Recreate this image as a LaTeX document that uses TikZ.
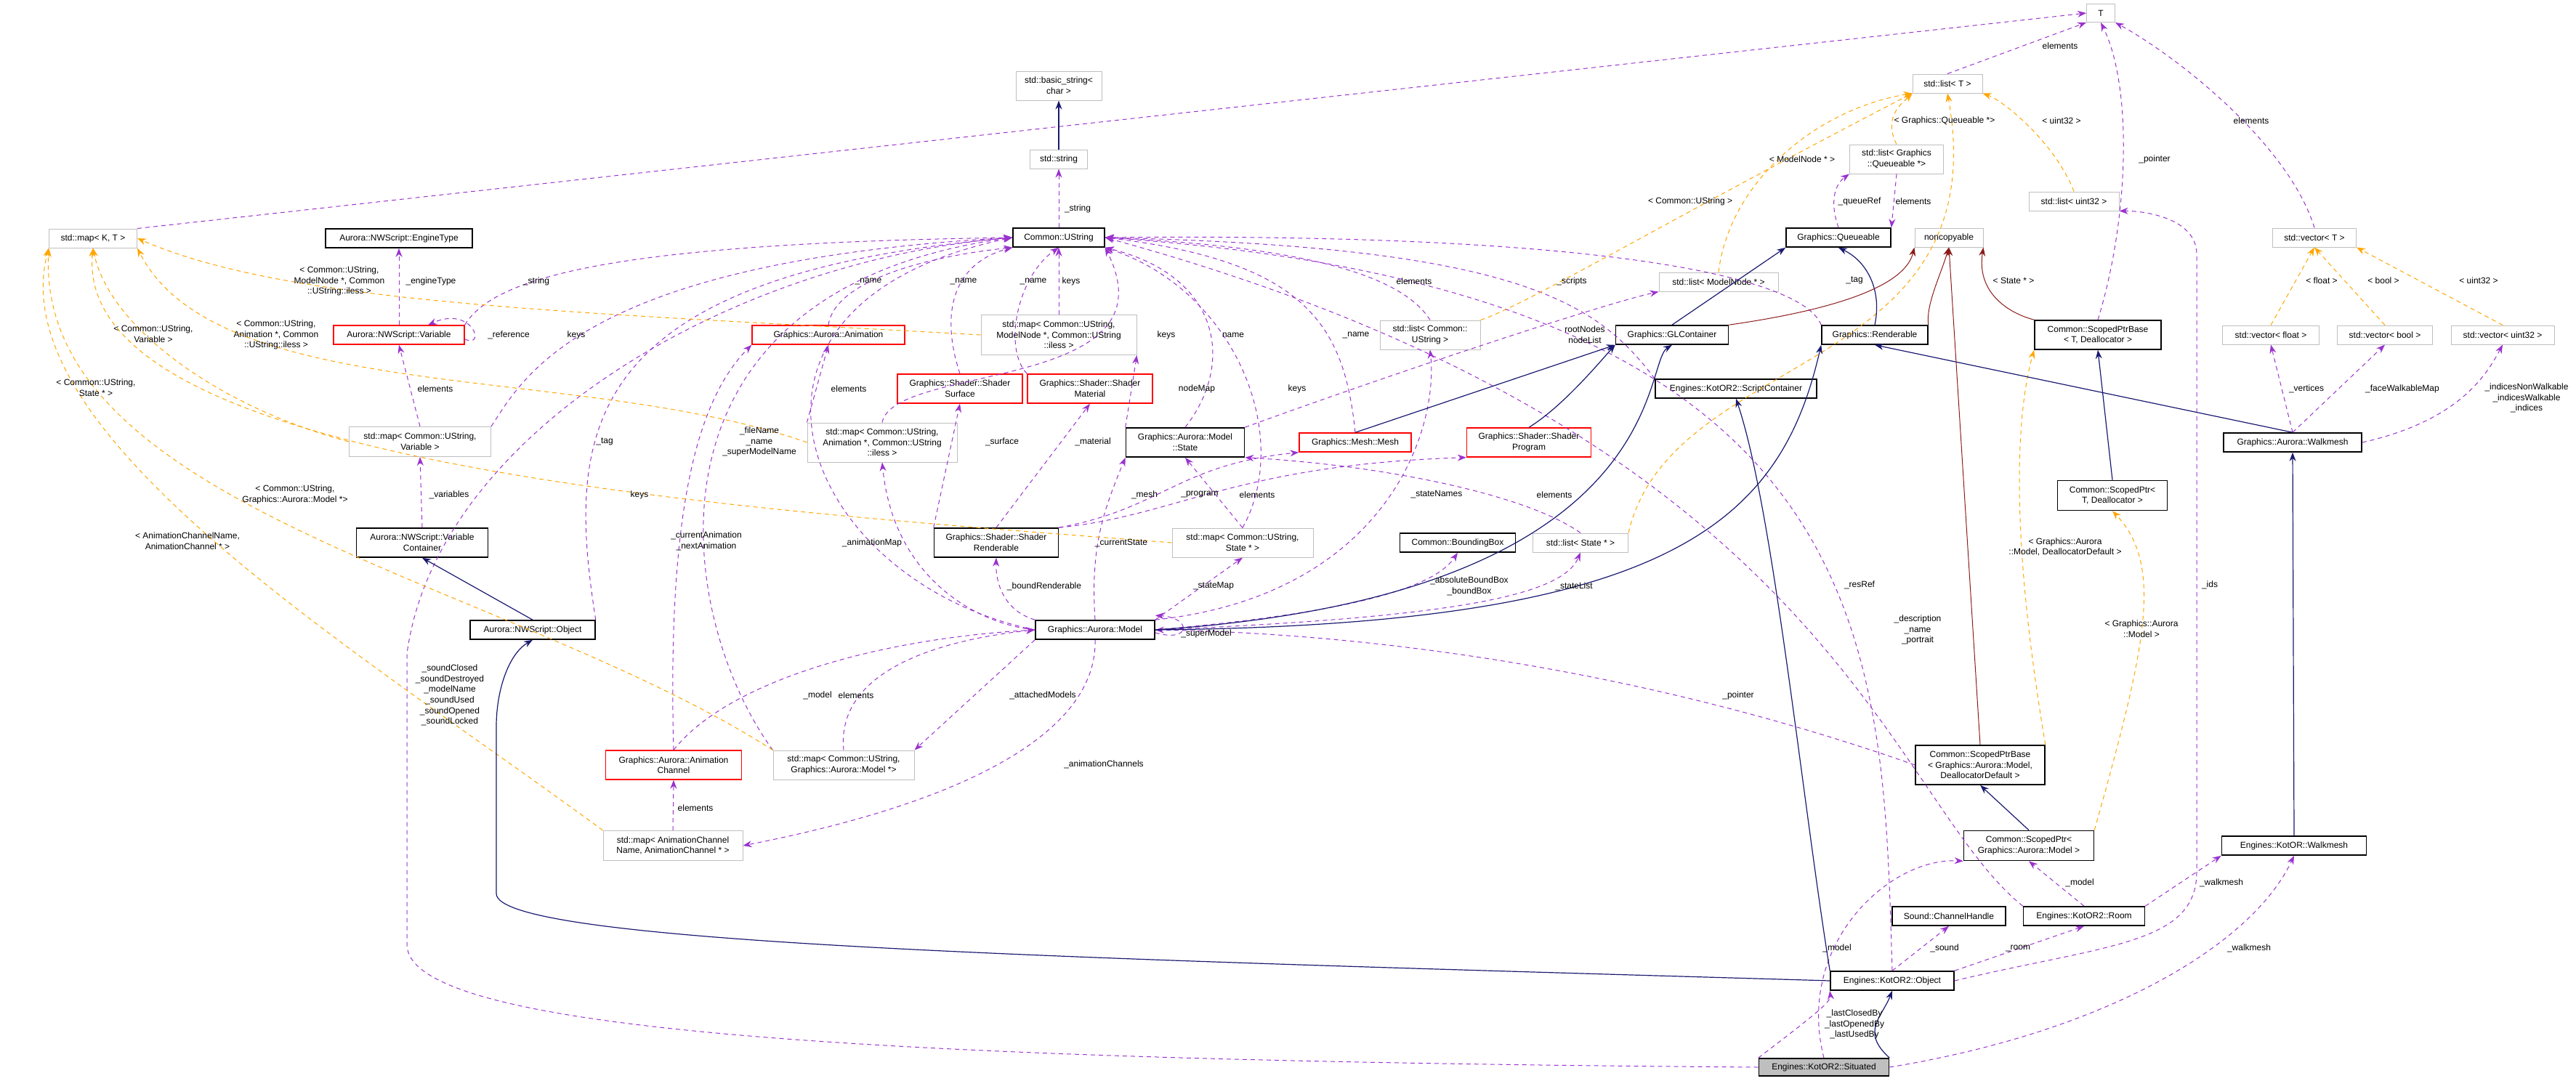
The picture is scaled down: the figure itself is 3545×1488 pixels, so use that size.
\documentclass[tikz,border=0pt]{standalone}
\usepackage{fontspec}
\setmainfont{Liberation Sans}
\usetikzlibrary{arrows.meta}
\definecolor{useclr}{RGB}{154,50,205}
\definecolor{tmplclr}{RGB}{255,165,0}
\definecolor{inhclr}{RGB}{25,25,112}
\definecolor{privclr}{RGB}{139,26,26}
\definecolor{grayb}{RGB}{191,191,191}
\tikzset{
 every node/.style={font=\fontsize{6pt}{7.3pt}\selectfont, align=center},
 box/.style={draw, rectangle, inner sep=1pt, line width=0.5pt},
 gbox/.style={box, draw=grayb},
 kbox/.style={box, draw=black, line width=0.8pt},
 rbox/.style={box, draw=red, line width=0.7pt},
 lbl/.style={inner sep=0pt},
 tip/.style={-{Stealth[length=6pt,width=4.5pt]}},
 use/.style={tip, draw=useclr, dash pattern=on 3pt off 2.5pt, line width=0.5pt},
 tmpl/.style={tip, draw=tmplclr, dash pattern=on 3pt off 2.5pt, line width=0.5pt},
 inh/.style={tip, draw=inhclr, line width=0.6pt},
 priv/.style={tip, draw=privclr, line width=0.5pt},
}
\begin{document}
\begin{tikzpicture}[x=0.5pt,y=-0.5pt]
\useasboundingbox (0,0) rectangle (3545,1488);
% nodes
\node[gbox,minimum width=19.5pt,minimum height=12.5pt] (T) at (2891,18) {T};
\node[gbox,minimum width=59pt,minimum height=20pt] (basic) at (1457,118) {std::basic\_string\textless\\ char \textgreater};
\node[gbox,minimum width=39.5pt,minimum height=13pt] (stdstring) at (1457,219) {std::string};
\node[kbox,minimum width=63pt,minimum height=13pt] (ustring) at (1457,327) {Common::UString};
\node[gbox,minimum width=60.5pt,minimum height=13pt] (mapKT) at (128,328) {std::map\textless{} K, T \textgreater};
\node[kbox,minimum width=101pt,minimum height=13pt] (engine) at (549,328) {Aurora::NWScript::EngineType};
\node[rbox,minimum width=90pt,minimum height=13pt] (variable) at (549,461) {Aurora::NWScript::Variable};
\node[gbox,minimum width=97.5pt,minimum height=20.5pt] (mapUVar) at (578,608) {std::map\textless{} Common::UString,\\ Variable \textgreater};
\node[kbox,minimum width=90.5pt,minimum height=20pt] (varcont) at (581,747) {Aurora::NWScript::Variable\\Container};
\node[kbox,minimum width=86pt,minimum height=13pt] (nwobj) at (733,867) {Aurora::NWScript::Object};
\node[rbox,minimum width=105pt,minimum height=13pt] (anim) at (1140,461) {Graphics::Aurora::Animation};
\node[gbox,minimum width=103pt,minimum height=27pt] (mapAnim) at (1214,609) {std::map\textless{} Common::UString,\\ Animation *, Common::UString\\ ::iless \textgreater};
\node[gbox,minimum width=107pt,minimum height=27.5pt] (mapMN) at (1457,461) {std::map\textless{} Common::UString,\\ ModelNode *, Common::UString\\ ::iless \textgreater};
\node[rbox,minimum width=86pt,minimum height=20pt] (surface) at (1321,535) {Graphics::Shader::Shader\\Surface};
\node[rbox,minimum width=86pt,minimum height=20pt] (material) at (1500,535) {Graphics::Shader::Shader\\Material};
\node[kbox,minimum width=81.5pt,minimum height=20pt] (mstate) at (1631,609) {Graphics::Aurora::Model\\::State};
\node[rbox,minimum width=77pt,minimum height=13pt] (mesh) at (1865,609) {Graphics::Mesh::Mesh};
\node[rbox,minimum width=85.5pt,minimum height=20pt] (program) at (2104,609) {Graphics::Shader::Shader\\Program};
\node[gbox,minimum width=69pt,minimum height=20pt] (listUS) at (1968,461) {std::list\textless{} Common::\\UString \textgreater};
\node[gbox,minimum width=82pt,minimum height=13pt] (listMN) at (2365,388) {std::list\textless{} ModelNode * \textgreater};
\node[kbox,minimum width=77.5pt,minimum height=13pt] (glcont) at (2301,461) {Graphics::GLContainer};
\node[kbox,minimum width=111pt,minimum height=13pt] (script) at (2389,535) {Engines::KotOR2::ScriptContainer};
\node[kbox,minimum width=85.5pt,minimum height=20pt] (rends) at (1371,747) {Graphics::Shader::Shader\\Renderable};
\node[gbox,minimum width=97pt,minimum height=20pt] (mapUState) at (1710,747) {std::map\textless{} Common::UString,\\ State * \textgreater};
\node[kbox,minimum width=79.5pt,minimum height=13pt] (bbox) at (2006,747) {Common::BoundingBox};
\node[gbox,minimum width=65.5pt,minimum height=13pt] (listState) at (2175,747) {std::list\textless{} State * \textgreater};
\node[kbox,minimum width=82pt,minimum height=13pt] (model) at (1507,867) {Graphics::Aurora::Model};
\node[gbox,minimum width=48pt,minimum height=13pt] (listT) at (2680,115) {std::list\textless{} T \textgreater};
\node[gbox,minimum width=64.5pt,minimum height=20pt] (listQ) at (2610,219) {std::list\textless{} Graphics\\::Queueable *\textgreater};
\node[gbox,minimum width=62pt,minimum height=13pt] (listU32) at (2854,277) {std::list\textless{} uint32 \textgreater};
\node[kbox,minimum width=72pt,minimum height=13pt] (queue) at (2530,327) {Graphics::Queueable};
\node[gbox,minimum width=47pt,minimum height=13pt] (noncopy) at (2682,327) {noncopyable};
\node[gbox,minimum width=57.5pt,minimum height=13pt] (vecT) at (3185,327) {std::vector\textless{} T \textgreater};
\node[kbox,minimum width=73pt,minimum height=13pt] (renderable) at (2580,461) {Graphics::Renderable};
\node[kbox,minimum width=87pt,minimum height=20pt] (spbT) at (2887,461) {Common::ScopedPtrBase\\\textless{} T, Deallocator \textgreater};
\node[gbox,minimum width=66.5pt,minimum height=13pt] (vecF) at (3125,461) {std::vector\textless{} float \textgreater};
\node[gbox,minimum width=65.5pt,minimum height=13pt] (vecB) at (3282,461) {std::vector\textless{} bool \textgreater};
\node[gbox,minimum width=71pt,minimum height=13pt] (vecU) at (3444,461) {std::vector\textless{} uint32 \textgreater};
\node[kbox,minimum width=95pt,minimum height=13pt] (walkmesh) at (3155,609) {Graphics::Aurora::Walkmesh};
\node[kbox,minimum width=75.5pt,minimum height=20.5pt] (spT) at (2907,682) {Common::ScopedPtr\textless\\ T, Deallocator \textgreater};
\node[rbox,minimum width=93.5pt,minimum height=20pt] (animch) at (927,1053) {Graphics::Aurora::Animation\\Channel};
\node[gbox,minimum width=97pt,minimum height=20pt] (mapUM) at (1161,1053) {std::map\textless{} Common::UString,\\ Graphics::Aurora::Model *\textgreater};
\node[gbox,minimum width=96pt,minimum height=20.5pt] (mapAC) at (926,1164) {std::map\textless{} AnimationChannel\\Name, AnimationChannel * \textgreater};
\node[kbox,minimum width=89pt,minimum height=27pt] (spbM) at (2725,1053) {Common::ScopedPtrBase\\\textless{} Graphics::Aurora::Model,\\ DeallocatorDefault \textgreater};
\node[kbox,minimum width=89.5pt,minimum height=20.5pt] (spM) at (2792,1164) {Common::ScopedPtr\textless\\ Graphics::Aurora::Model \textgreater};
\node[kbox,minimum width=99.5pt,minimum height=13pt] (kwalk) at (3157,1164) {Engines::KotOR::Walkmesh};
\node[kbox,minimum width=78pt,minimum height=13pt] (chan) at (2682,1261) {Sound::ChannelHandle};
\node[kbox,minimum width=83.5pt,minimum height=13pt] (room) at (2868,1261) {Engines::KotOR2::Room};
\node[kbox,minimum width=85pt,minimum height=13pt] (kobj) at (2604,1350) {Engines::KotOR2::Object};
\node[kbox,fill=grayb,minimum width=89.5pt,minimum height=12pt] (situated) at (2510,1469) {Engines::KotOR2::Situated};

% usage edges
\draw[use] (mapKT.north east) -- (T.west);
\draw[use] (listT.north) -- (T.south west);
\draw[use] (vecT.north) .. controls (3150,200) and (3000,80) .. (T.south east);
\draw[use] (spbT.north) .. controls (2930,300) and (2935,120) .. (T.south);
\draw[use] (ustring.north) -- (stdstring.south);
\draw[use] (variable.north) -- (engine.south);
\draw[use] (variable.north east) .. controls (680,380) and (850,335) .. (ustring.west);
\draw[use] ([yshift=-3pt]variable.east) .. controls (670,480) and (650,420) .. ([xshift=20pt]variable.north);
\draw[use] (mapUVar.north) -- (variable.south);
\draw[use] (mapUVar.north east) .. controls (720,520) and (800,360) .. (ustring.west);
\draw[use] (varcont.north) -- (mapUVar.south);
\draw[use] (nwobj.north east) .. controls (780,600) and (790,380) .. (ustring.west);
\draw[use] (anim.north) .. controls (1150,380) and (1300,350) .. (ustring.south west);
\draw[use] (mapAnim.north west) -- (anim.south);
\draw[use] (mapAnim.north) .. controls (1230,500) and (1620,540) .. (ustring.south east);
\draw[use] (model.west) .. controls (1100,800) and (950,420) .. (ustring.west);
\draw[use] (animch.north) .. controls (918,700) and (960,550) .. (anim.south west);
\draw[use] (mapUM.north west) .. controls (930,850) and (860,400) .. (ustring.west);
\draw[use] (model.west) .. controls (1350,860) and (1230,800) .. (mapAnim.south);
\draw[use] (surface.north) .. controls (1290,420) and (1320,360) .. (ustring.south west);
\draw[use] (material.north west) .. controls (1380,480) and (1400,380) .. (ustring.south);
\draw[use] (mapMN.north) -- (ustring.south);
\draw[use] (mapUState.north) .. controls (1780,600) and (1700,400) .. (ustring.south east);
\draw[use] (mstate.north) .. controls (1700,500) and (1680,380) .. (ustring.south east);
\draw[use] (mstate.north west) -- (mapMN.south east);
\draw[use] (mesh.north) .. controls (1850,450) and (1800,360) .. (ustring.east);
\draw[use] (listUS.north) .. controls (1930,380) and (1800,340) .. (ustring.east);
\draw[use] (script.north west) .. controls (2200,420) and (2100,340) .. (ustring.east);
\draw[use] (renderable.north west) .. controls (2480,380) and (2200,320) .. (ustring.east);
\draw[use] (kobj.north) .. controls (2590,900) and (2600,400) .. (ustring.east);
\draw[use] (room.north west) .. controls (2600,1100) and (2520,600) .. (ustring.east);
\draw[use] (model.north) .. controls (1500,750) and (1520,700) .. (mstate.south west);
\draw[use] (model.north west) .. controls (1380,840) and (1370,800) .. (rends.south);
\draw[use] (rends.north west) -- (surface.south);
\draw[use] (rends.north) -- (material.south);
\draw[use] (rends.north east) .. controls (1600,700) and (1620,640) .. (mesh.south west);
\draw[use] (rends.north east) .. controls (1620,710) and (1700,640) .. (program.south west);
\draw[use] (mapUState.north) -- (mstate.south);
\draw[use] (listState.north) .. controls (2100,680) and (1900,640) .. (mstate.south east);
\draw[use] (model.north east) -- (mapUState.south);
\draw[use] (model.north east) .. controls (1900,820) and (1980,600) .. (listUS.south);
\draw[use] (model.east) .. controls (1900,840) and (1980,800) .. (bbox.south);
\draw[use] (model.east) .. controls (2000,850) and (2150,820) .. (listState.south);
\draw[use] ([yshift=-2pt]model.east) .. controls (1640,885) and (1640,850) .. ([yshift=3pt]model.north east);
\draw[use] (mstate.north east) .. controls (1900,520) and (2200,420) .. (listMN.south west);
\draw[use] (queue.north) .. controls (2515,270) and (2530,250) .. (listQ.south west);
\draw[use] (listQ.south) -- (queue.north east);
\draw[use] (animch.north) .. controls (1000,940) and (1200,880) .. (model.west);
\draw[use] (mapUM.north) .. controls (1150,920) and (1300,880) .. (model.west);
\draw[use] (model.south west) -- (mapUM.north east);
\draw[use] (model.south) .. controls (1510,1000) and (1350,1100) .. (mapAC.east);
\draw[use] (mapAC.north) -- (animch.south);
\draw[use] (situated.west) .. controls (1200,1460) and (560,1420) .. (560,1300) -- (560,900) .. controls (600,600) and (1000,360) .. (ustring.west);
\draw[use] (walkmesh.north) -- (vecF.south);
\draw[use] (walkmesh.north) -- (vecB.south);
\draw[use] (walkmesh.east) .. controls (3380,580) and (3420,520) .. (vecU.south);
\draw[use] (spbM.west) .. controls (2200,900) and (1800,870) .. (model.east);
\draw[use] (kobj.east) .. controls (2900,1300) and (3023,1300) .. (3023,1200) -- (3023,350) .. controls (3023,300) and (2950,290) .. (listU32.south east);
\draw[use] (situated.north) .. controls (2470,1300) and (2600,1180) .. (spM.south west);
\draw[use] (room.north) -- (spM.south);
\draw[use] (room.north east) -- (kwalk.south west);
\draw[use] (situated.east) .. controls (2900,1420) and (3100,1300) .. (kwalk.south);
\draw[use] (kobj.north) -- (chan.south);
\draw[use] (kobj.north east) -- (room.south);
\draw[use] (situated.north west) .. controls (2480,1410) and (2520,1380) .. (kobj.south west);

% template edges
\draw[tmpl] (listQ.north) .. controls (2590,160) and (2620,140) .. (listT.south west);
\draw[tmpl] (listU32.north) .. controls (2830,200) and (2760,140) .. (listT.south east);
\draw[tmpl] (listMN.north) .. controls (2380,250) and (2500,150) .. (listT.south west);
\draw[tmpl] (listUS.north east) .. controls (2100,420) and (2300,300) .. (listT.south west);
\draw[tmpl] (listState.north east) .. controls (2300,480) and (2750,520) .. (listT.south);
\draw[tmpl] (mapMN.west) .. controls (800,430) and (400,420) .. (mapKT.east);
\draw[tmpl] (mapAnim.west) .. controls (800,500) and (300,560) .. (mapKT.south east);
\draw[tmpl] (mapUVar.west) .. controls (300,560) and (150,450) .. (mapKT.south);
\draw[tmpl] (mapUState.west) .. controls (1000,700) and (100,640) .. (mapKT.south);
\draw[tmpl] (mapUM.north west) .. controls (700,800) and (50,700) .. (mapKT.south west);
\draw[tmpl] (mapAC.north west) .. controls (500,900) and (0,600) .. (mapKT.south west);
\draw[tmpl] (vecF.north) -- (vecT.south);
\draw[tmpl] (vecB.north) -- (vecT.south);
\draw[tmpl] (vecU.north) -- (vecT.south east);
\draw[tmpl] (spbM.north east) .. controls (2760,700) and (2780,550) .. (spbT.south west);
\draw[tmpl] (spM.north east) .. controls (2950,900) and (2980,780) .. (spT.south);

% inheritance
\draw[inh] (stdstring.north) -- (basic.south);
\draw[inh] (nwobj.north) -- (varcont.south);
\draw[inh] (kobj.west) .. controls (1500,1320) and (683,1300) .. (683,1230) -- (683,1000) .. controls (683,950) and (700,900) .. (nwobj.south);
\draw[inh] (situated.north east) .. controls (2560,1420) and (2590,1400) .. (kobj.south);
\draw[inh] (mesh.north) -- (glcont.south west);
\draw[inh] (program.north) .. controls (2150,560) and (2200,500) .. (glcont.south west);
\draw[inh] (model.east) .. controls (2300,820) and (2260,500) .. (glcont.south);
\draw[inh] (model.east) .. controls (2300,860) and (2450,720) .. (renderable.south west);
\draw[inh] (glcont.north) -- (queue.south west);
\draw[inh] (renderable.north) .. controls (2590,400) and (2570,360) .. (queue.south);
\draw[inh] (walkmesh.north) -- (renderable.south);
\draw[inh] (kwalk.north) -- (walkmesh.south);
\draw[inh] (spT.north) -- (spbT.south);
\draw[inh] (spM.north) -- (spbM.south);
\draw[inh] (kobj.north west) .. controls (2480,1100) and (2440,700) .. (script.south);
\draw[priv] (glcont.north east) .. controls (2500,430) and (2620,400) .. (noncopy.south west);
\draw[priv] (renderable.north east) .. controls (2650,420) and (2670,380) .. (noncopy.south);
\draw[priv] (spbT.north west) .. controls (2760,430) and (2720,400) .. (noncopy.south east);
\draw[priv] (spbM.north) -- (noncopy.south);

% labels
\node[lbl] (l1) at (2835,63) {elements};
\node[lbl] (l2) at (3098,166) {elements};
\node[lbl] (l3) at (2965,219) {\_pointer};
\node[lbl] (l4) at (1483,287) {\_string};
\node[lbl] (l5) at (593,387) {\_engineType};
\node[lbl] (l6) at (738,387) {\_string};
\node[lbl] (l7) at (700,461) {\_reference};
\node[lbl] (l8) at (599,535) {elements};
\node[lbl] (l9) at (793,461) {keys};
\node[lbl] (l10) at (618,681) {\_variables};
\node[lbl] (l11) at (832,608) {\_tag};
\node[lbl] (l12) at (1195,387) {\_name};
\node[lbl] (l13) at (1168,535) {elements};
\node[lbl] (l14) at (1605,461) {keys};
\node[lbl] (l15) at (1045,608) {\_fileName\\\_name\\\_superModelName};
\node[lbl] (l16) at (972,745) {\_currentAnimation\\\_nextAnimation};
\node[lbl] (l17) at (880,681) {keys};
\node[lbl] (l18) at (1200,747) {\_animationMap};
\node[lbl] (l19) at (1326,387) {\_name};
\node[lbl] (l20) at (1422,387) {\_name};
\node[lbl] (l21) at (1474,387) {keys};
\node[lbl] (l22) at (1785,535) {keys};
\node[lbl] (l23) at (1697,461) {name};
\node[lbl] (l24) at (1647,535) {nodeMap};
\node[lbl] (l25) at (1866,461) {\_name};
\node[lbl] (l26) at (1946,387) {elements};
\node[lbl] (l27) at (2163,387) {\_scripts};
\node[lbl] (l28) at (2552,386) {\_tag};
\node[lbl] (l29) at (2639,867) {\_description\\\_name\\\_portrait};
\node[lbl] (l30) at (2559,805) {\_resRef};
\node[lbl] (l31) at (1543,747) {\_currentState};
\node[lbl] (l32) at (1437,807) {\_boundRenderable};
\node[lbl] (l33) at (1379,608) {\_surface};
\node[lbl] (l34) at (1504,608) {\_material};
\node[lbl] (l35) at (1575,681) {\_mesh};
\node[lbl] (l36) at (1651,681) {\_program};
\node[lbl] (l37) at (1730,681) {elements};
\node[lbl] (l38) at (2139,681) {elements};
\node[lbl] (l39) at (1670,807) {\_stateMap};
\node[lbl] (l40) at (1977,681) {\_stateNames};
\node[lbl] (l41) at (2022,807) {\_absoluteBoundBox\\\_boundBox};
\node[lbl] (l42) at (2166,807) {\_stateList};
\node[lbl] (l43) at (1660,872) {\_superModel};
\node[lbl] (l44) at (2181,461) {rootNodes\\nodeList};
\node[lbl] (l45) at (2559,277) {\_queueRef};
\node[lbl] (l46) at (2633,277) {elements};
\node[lbl] (l47) at (1125,957) {\_model};
\node[lbl] (l48) at (1178,957) {elements};
\node[lbl] (l49) at (1435,957) {\_attachedModels};
\node[lbl] (l50) at (1519,1052) {\_animationChannels};
\node[lbl] (l51) at (957,1112) {elements};
\node[lbl] (l52) at (619,957) {\_soundClosed\\\_soundDestroyed\\\_modelName\\\_soundUsed\\\_soundOpened\\\_soundLocked};
\node[lbl] (l53) at (3174,535) {\_vertices};
\node[lbl] (l54) at (3306,535) {\_faceWalkableMap};
\node[lbl] (l55) at (3477,548) {\_indicesNonWalkable\\\_indicesWalkable\\\_indices};
\node[lbl] (l56) at (2392,957) {\_pointer};
\node[lbl] (l57) at (3041,805) {\_ids};
\node[lbl] (l58) at (2528,1305) {\_model};
\node[lbl] (l59) at (2862,1215) {\_model};
\node[lbl] (l60) at (3057,1215) {\_walkmesh};
\node[lbl] (l61) at (3095,1305) {\_walkmesh};
\node[lbl] (l62) at (2676,1305) {\_sound};
\node[lbl] (l63) at (2777,1305) {\_room};
\node[lbl] (l64) at (2552,1410) {\_lastClosedBy\\\_lastOpenedBy\\\_lastUsedBy};
\node[lbl] (t1) at (2676,166) {\textless{} Graphics::Queueable *\textgreater};
\node[lbl] (t2) at (2837,166) {\textless{} uint32 \textgreater};
\node[lbl] (t3) at (2480,219) {\textless{} ModelNode * \textgreater};
\node[lbl] (t4) at (2326,277) {\textless{} Common::UString \textgreater};
\node[lbl] (t5) at (2771,386) {\textless{} State * \textgreater};
\node[lbl] (t6) at (467,387) {\textless{} Common::UString,\\ModelNode *, Common\\::UString::iless \textgreater};
\node[lbl] (t7) at (380,461) {\textless{} Common::UString,\\Animation *, Common\\::UString::iless \textgreater};
\node[lbl] (t8) at (211,460) {\textless{} Common::UString,\\Variable \textgreater};
\node[lbl] (t9) at (132,534) {\textless{} Common::UString,\\State * \textgreater};
\node[lbl] (t10) at (406,681) {\textless{} Common::UString,\\Graphics::Aurora::Model *\textgreater};
\node[lbl] (t11) at (258,745) {\textless{} AnimationChannelName,\\AnimationChannel * \textgreater};
\node[lbl] (t12) at (3195,386) {\textless{} float \textgreater};
\node[lbl] (t13) at (3280,386) {\textless{} bool \textgreater};
\node[lbl] (t14) at (3411,386) {\textless{} uint32 \textgreater};
\node[lbl] (t15) at (2842,753) {\textless{} Graphics::Aurora\\::Model, DeallocatorDefault \textgreater};
\node[lbl] (t16) at (2947,866) {\textless{} Graphics::Aurora\\::Model \textgreater};
\end{tikzpicture}
\end{document}
